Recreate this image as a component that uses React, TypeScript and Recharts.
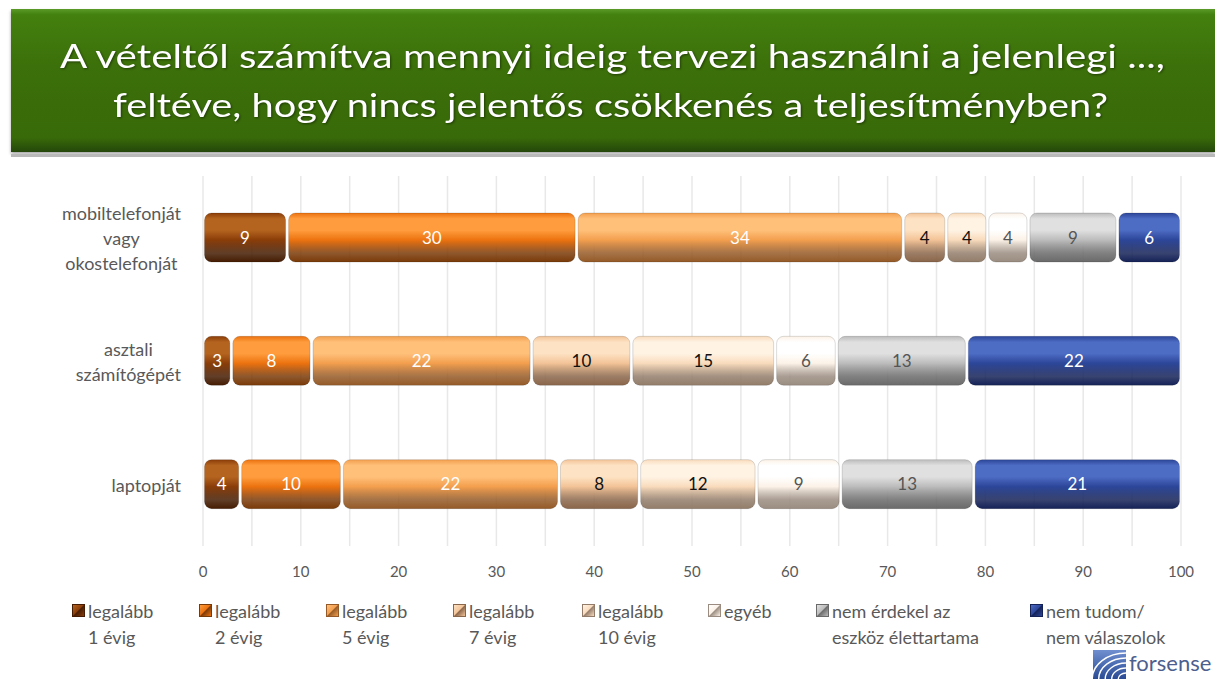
import { BarChart, Bar, XAxis, YAxis, CartesianGrid, LabelList } from "recharts";

const categories = [
  "mobiltelefonját\nvagy\nokostelefonját",
  "asztali\nszámítógépét",
  "laptopját",
];

const seriesNames = [
  "legalább\n1 évig",
  "legalább\n2 évig",
  "legalább\n5 évig",
  "legalább\n7 évig",
  "legalább\n10 évig",
  "egyéb",
  "nem érdekel az\neszköz élettartama",
  "nem tudom/\nnem válaszolok",
];

// segment lengths as drawn (row sums = 100)
const mobilShares = [8.6, 29.6, 33.4, 4.4, 4.2, 4.2, 9.1, 6.5];
const asztaliShares = [2.9, 8.2, 22.5, 10.2, 14.7, 6.3, 13.3, 21.9];
const laptopShares = [3.8, 10.4, 22.2, 8.2, 12.0, 8.6, 13.6, 21.2];

// printed figures
const mobilLabels = [9, 30, 34, 4, 4, 4, 9, 6];
const asztaliLabels = [3, 8, 22, 10, 15, 6, 13, 22];
const laptopLabels = [4, 10, 22, 8, 12, 9, 13, 21];

const xTicks = [0, 5, 10, 15, 20, 25, 30, 35, 40, 45, 50, 55, 60, 65, 70, 75, 80, 85, 90, 95, 100];

const FONT = "Lato, 'Open Sans', sans-serif";
const GREY_TEXT = "#595959";

// light / base / dark shade per series
const shades = [
  ["#b5641f", "#8a3d08", "#451c02"],
  ["#ff9d3e", "#ec720f", "#7a3a08"],
  ["#ffc07a", "#f39f4e", "#955a27"],
  ["#fde2c3", "#f3c397", "#8a664a"],
  ["#fff3e4", "#f9dbbc", "#937d6a"],
  ["#ffffff", "#fcf2e7", "#9a8c80"],
  ["#e0e0e0", "#bcbcbc", "#6a6a6a"],
  ["#4d6cc4", "#2c4699", "#152257"],
];
const labelColors = ["#ffffff", "#ffffff", "#ffffff", "#111111", "#111111", "#555555", "#555555", "#ffffff"];
const legendX = [72, 199, 326, 453, 582, 708, 816, 1030];

const rows = [
  { shares: mobilShares, labels: mobilLabels },
  { shares: asztaliShares, labels: asztaliLabels },
  { shares: laptopShares, labels: laptopLabels },
];

const chartData = categories.map((name, r) => {
  const row: Record<string, string | number> = { name };
  rows[r].shares.forEach((v, i) => {
    row[`s${i}`] = v;
    row[`l${i}`] = rows[r].labels[i];
  });
  return row;
});

let measureCtx: CanvasRenderingContext2D | null = null;
function textWidth(t: string, font: string) {
  if (!measureCtx) measureCtx = document.createElement("canvas").getContext("2d");
  if (!measureCtx) return t.length * 8;
  measureCtx.font = font;
  return measureCtx.measureText(t).width;
}

function CategoryTick(props: any) {
  const { y, payload } = props;
  const lines = String(payload.value).split("\n");
  const maxW = Math.max(...lines.map((l) => textWidth(l, `18px ${FONT}`)));
  const cx = 181 - maxW / 2;
  const lh = 25;
  const startY = y + 3 - ((lines.length - 1) * lh) / 2;
  return (
    <text textAnchor="middle" fontFamily={FONT} fontSize={18} fill={GREY_TEXT}>
      {lines.map((l, i) => (
        <tspan key={i} x={cx} y={startY + i * lh} dominantBaseline="middle">
          {l}
        </tspan>
      ))}
    </text>
  );
}

function Segment(props: any) {
  const { x, y, width, height, gid } = props;
  if (!width || width <= 0) return null;
  return (
    <rect
      x={x + 1.5}
      y={y}
      width={Math.max(width - 3, 1)}
      height={height}
      rx={7}
      ry={7}
      fill={`url(#${gid})`}
      stroke="rgba(0,0,0,0.18)"
      strokeWidth={0.8}
    />
  );
}

function Logo() {
  return (
    <svg style={{ position: "absolute", left: 1092, top: 647 }} width={122} height={32}>
      <defs>
        <linearGradient id="logoG" x1="0" y1="0" x2="0" y2="1">
          <stop offset="0%" stopColor="#6f8fd0" />
          <stop offset="100%" stopColor="#2a4a94" />
        </linearGradient>
      </defs>
      <rect x={1} y={3} width={33} height={29} fill="url(#logoG)" />
      {[6, 11, 16, 21, 26].map((r) => (
        <path key={r} d={`M ${34 - r * 1.3} 32 A ${r * 1.3} ${r} 0 0 1 34 ${32 - r}`} stroke="#ffffff" strokeWidth={1.4} fill="none" />
      ))}
      <text x={37} y={24} fontFamily={FONT} fontSize={22} fill="#4c5f8e">
        forsense
      </text>
    </svg>
  );
}

export default function App() {
  return (
    <div style={{ position: "absolute", left: 0, top: 0, width: 1215, height: 679, background: "#ffffff", overflow: "hidden" }}>
      {/* title box */}
      <div
        style={{
          position: "absolute",
          left: 11,
          top: 9,
          width: 1204,
          height: 143,
          background: "linear-gradient(#5a9a28 0%, #43800f 4%, #3c700a 40%, #386a09 90%, #24470a 100%)",
          boxShadow: "0 2px 3px rgba(0,0,0,0.35)",
        }}
      />
      <div style={{ position: "absolute", left: 11, top: 154, width: 1204, height: 3, background: "#b9b9b9" }} />
      <svg style={{ position: "absolute", left: 0, top: 0 }} width={1215} height={160}>
        <g fontFamily={FONT} fontSize={33} fill="#ffffff" style={{ filter: "drop-shadow(1px 1px 1px rgba(0,0,0,0.45))" }}>
          <text x={60} y={68} textLength={1105} lengthAdjust="spacingAndGlyphs">
            A vételtől számítva mennyi ideig tervezi használni a jelenlegi ...,
          </text>
          <text x={113} y={117} textLength={995} lengthAdjust="spacingAndGlyphs">
            feltéve, hogy nincs jelentős csökkenés a teljesítményben?
          </text>
        </g>
      </svg>

      <div style={{ position: "absolute", left: 0, top: 0 }}>
        <BarChart
          width={1215}
          height={600}
          data={chartData}
          layout="vertical"
          margin={{ top: 176, right: 34, bottom: 24, left: 10 }}
          barSize={49}
        >
          <defs>
            {shades.map(([light, base, dark], i) => (
              <linearGradient key={i} id={`seg${i}`} x1="0" y1="0" x2="0" y2="1">
                <stop offset="0%" stopColor={base} />
                <stop offset="12%" stopColor={light} />
                <stop offset="35%" stopColor={light} />
                <stop offset="55%" stopColor={base} />
                <stop offset="82%" stopColor={dark} stopOpacity={0.85} />
                <stop offset="100%" stopColor={dark} />
              </linearGradient>
            ))}
          </defs>
          <CartesianGrid horizontal={false} stroke="#e8e8e8" strokeWidth={1.5} />
          <XAxis
            type="number"
            domain={[0, 100]}
            ticks={xTicks}
            interval={0}
            tickFormatter={(v: number) => (v % 10 === 0 ? String(v) : "")}
            axisLine={false}
            tickLine={false}
            tickMargin={14}
            height={30}
            tick={{ fill: GREY_TEXT, fontSize: 15, fontFamily: FONT }}
          />
          <YAxis
            type="category"
            dataKey="name"
            width={193}
            axisLine={false}
            tickLine={false}
            tick={<CategoryTick />}
          />
          {seriesNames.map((s, i) => (
            <Bar
              key={s}
              dataKey={`s${i}`}
              stackId="a"
              isAnimationActive={false}
              fill={shades[i][1]}
              shape={(p: any) => <Segment {...p} gid={`seg${i}`} />}
            >
              <LabelList
                dataKey={`l${i}`}
                content={(p: any) => (
                  <text
                    x={p.x + p.width / 2}
                    y={p.y + p.height / 2 + 2}
                    textAnchor="middle"
                    dominantBaseline="middle"
                    fontFamily={FONT}
                    fontSize={17}
                    fill={labelColors[i]}
                  >
                    {p.value}
                  </text>
                )}
              />
            </Bar>
          ))}
        </BarChart>
      </div>

      {/* legend */}
      {seriesNames.map((s, i) => {
        const [light, base, dark] = shades[i];
        return (
          <div key={s} style={{ position: "absolute", left: legendX[i], top: 598, display: "flex", alignItems: "flex-start" }}>
            <div
              style={{
                width: 13,
                height: 13,
                marginTop: 6,
                background: `linear-gradient(135deg, ${light} 0%, ${base} 48%, ${dark} 52%, ${base} 100%)`,
                border: `1px solid ${dark}`,
                boxSizing: "border-box",
              }}
            />
            <div style={{ marginLeft: 3, fontFamily: FONT, fontSize: 18, lineHeight: "26px", color: GREY_TEXT, whiteSpace: "pre" }}>
              {s.split("\n").map((l, k) => (
                <div key={k}>{l}</div>
              ))}
            </div>
          </div>
        );
      })}

      <Logo />
    </div>
  );
}
